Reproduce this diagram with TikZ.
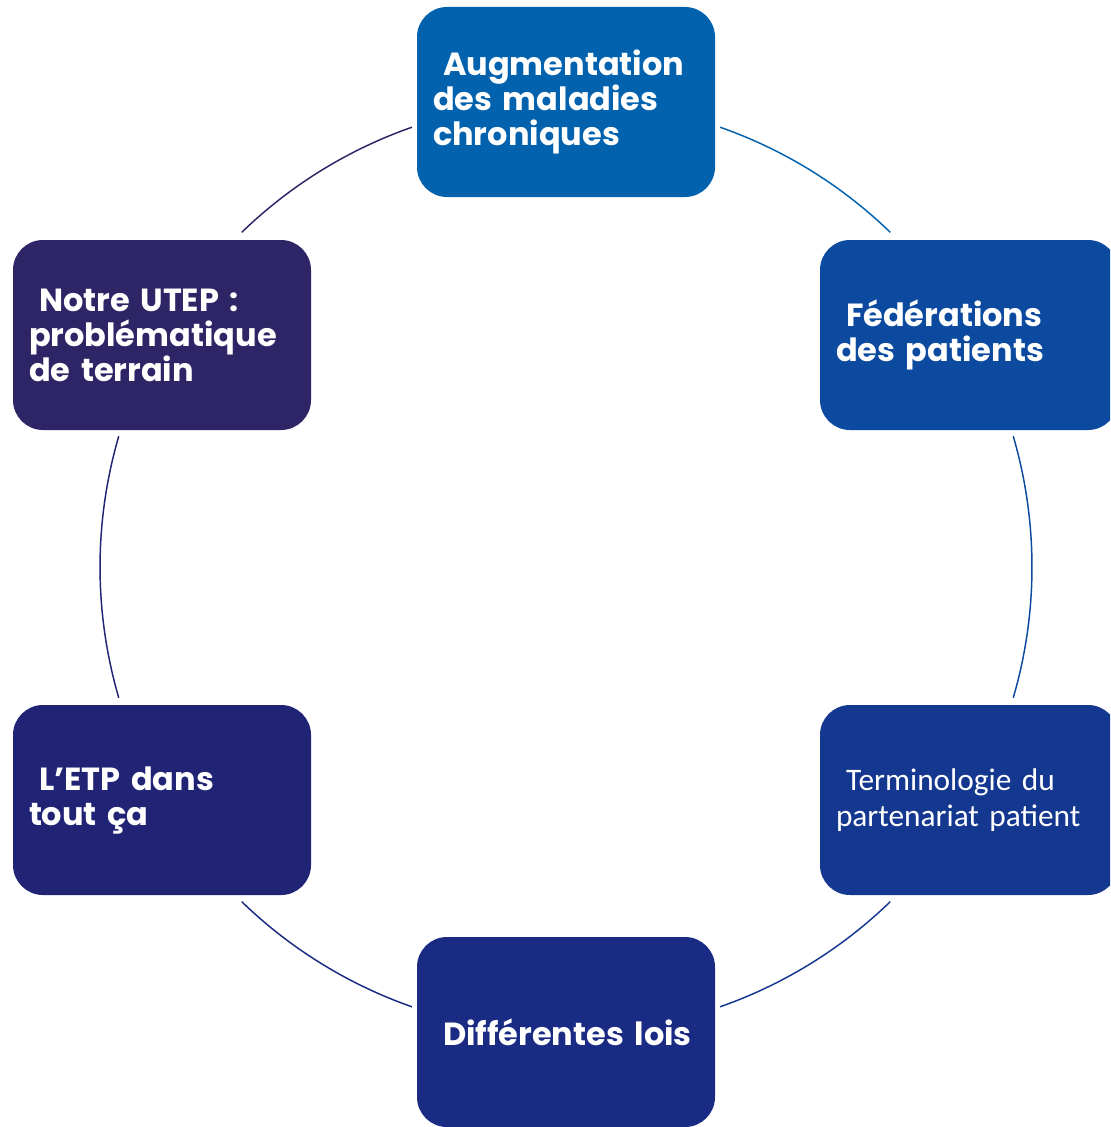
\documentclass[tikz,border=0pt]{standalone}
\usepackage{fontspec}
\setmainfont{Poppins}[BoldFont={Poppins Bold}]
\newfontfamily\calfont{Carlito}
\definecolor{cA}{HTML}{0362AE}
\definecolor{cB}{HTML}{0C4A9F}
\definecolor{cC}{HTML}{14378F}
\definecolor{cD}{HTML}{1A2B84}
\definecolor{cE}{HTML}{212374}
\definecolor{cF}{HTML}{2D2565}
\tikzset{
  box/.style={rectangle, rounded corners=22.5pt, minimum width=223.5pt, minimum height=142.5pt,
    text width=199.5pt, inner xsep=12pt, align=left, text=white,
    font=\bfseries\fontsize{24}{26.25}\selectfont},
  ring/.style={line width=1.1pt}
}
\newcommand{\lead}{\hspace*{7.5pt}}
\begin{document}
\begin{tikzpicture}[x=0.75pt,y=-0.75pt]
\clip (0,0) rectangle (1110,1127);
\fill[white] (0,0) rectangle (1110,1127);
\coordinate (c) at (566,567);
\node[box, fill=cA] (top) at (566,102) {\lead Augmentation\\des maladies\\chroniques};
\node[box, fill=cB] (rt) at (969,335) {\lead Fédérations\\des patients};
\node[box, fill=cC, font=\calfont\fontsize{23.5}{27}\selectfont] (rb) at (969,800) {\lead Terminologie du\\partenariat patient};
\node[box, fill=cD] (bot) at (566,1032) {\lead Différentes lois};
\node[box, fill=cE] (lb) at (162,800) {\lead L’ETP dans\\tout ça};
\node[box, fill=cF] (lt) at (162,335) {\lead Notre UTEP :\\problématique\\de terrain};
\draw[ring, cA] ([shift={(70.7:349.5pt)}]c) arc[start angle=70.7, end angle=45.9, radius=349.5pt];
\draw[ring, cB] ([shift={(16.3:349.5pt)}]c) arc[start angle=16.3, end angle=-16.3, radius=349.5pt];
\draw[ring, cC] ([shift={(-45.9:349.5pt)}]c) arc[start angle=-45.9, end angle=-70.7, radius=349.5pt];
\draw[ring, cD] ([shift={(-109.3:349.5pt)}]c) arc[start angle=-109.3, end angle=-134.1, radius=349.5pt];
\draw[ring, cE] ([shift={(-163.7:349.5pt)}]c) arc[start angle=-163.7, end angle=-196.3, radius=349.5pt];
\draw[ring, cF] ([shift={(134.1:349.5pt)}]c) arc[start angle=134.1, end angle=109.3, radius=349.5pt];
\end{tikzpicture}
\end{document}
